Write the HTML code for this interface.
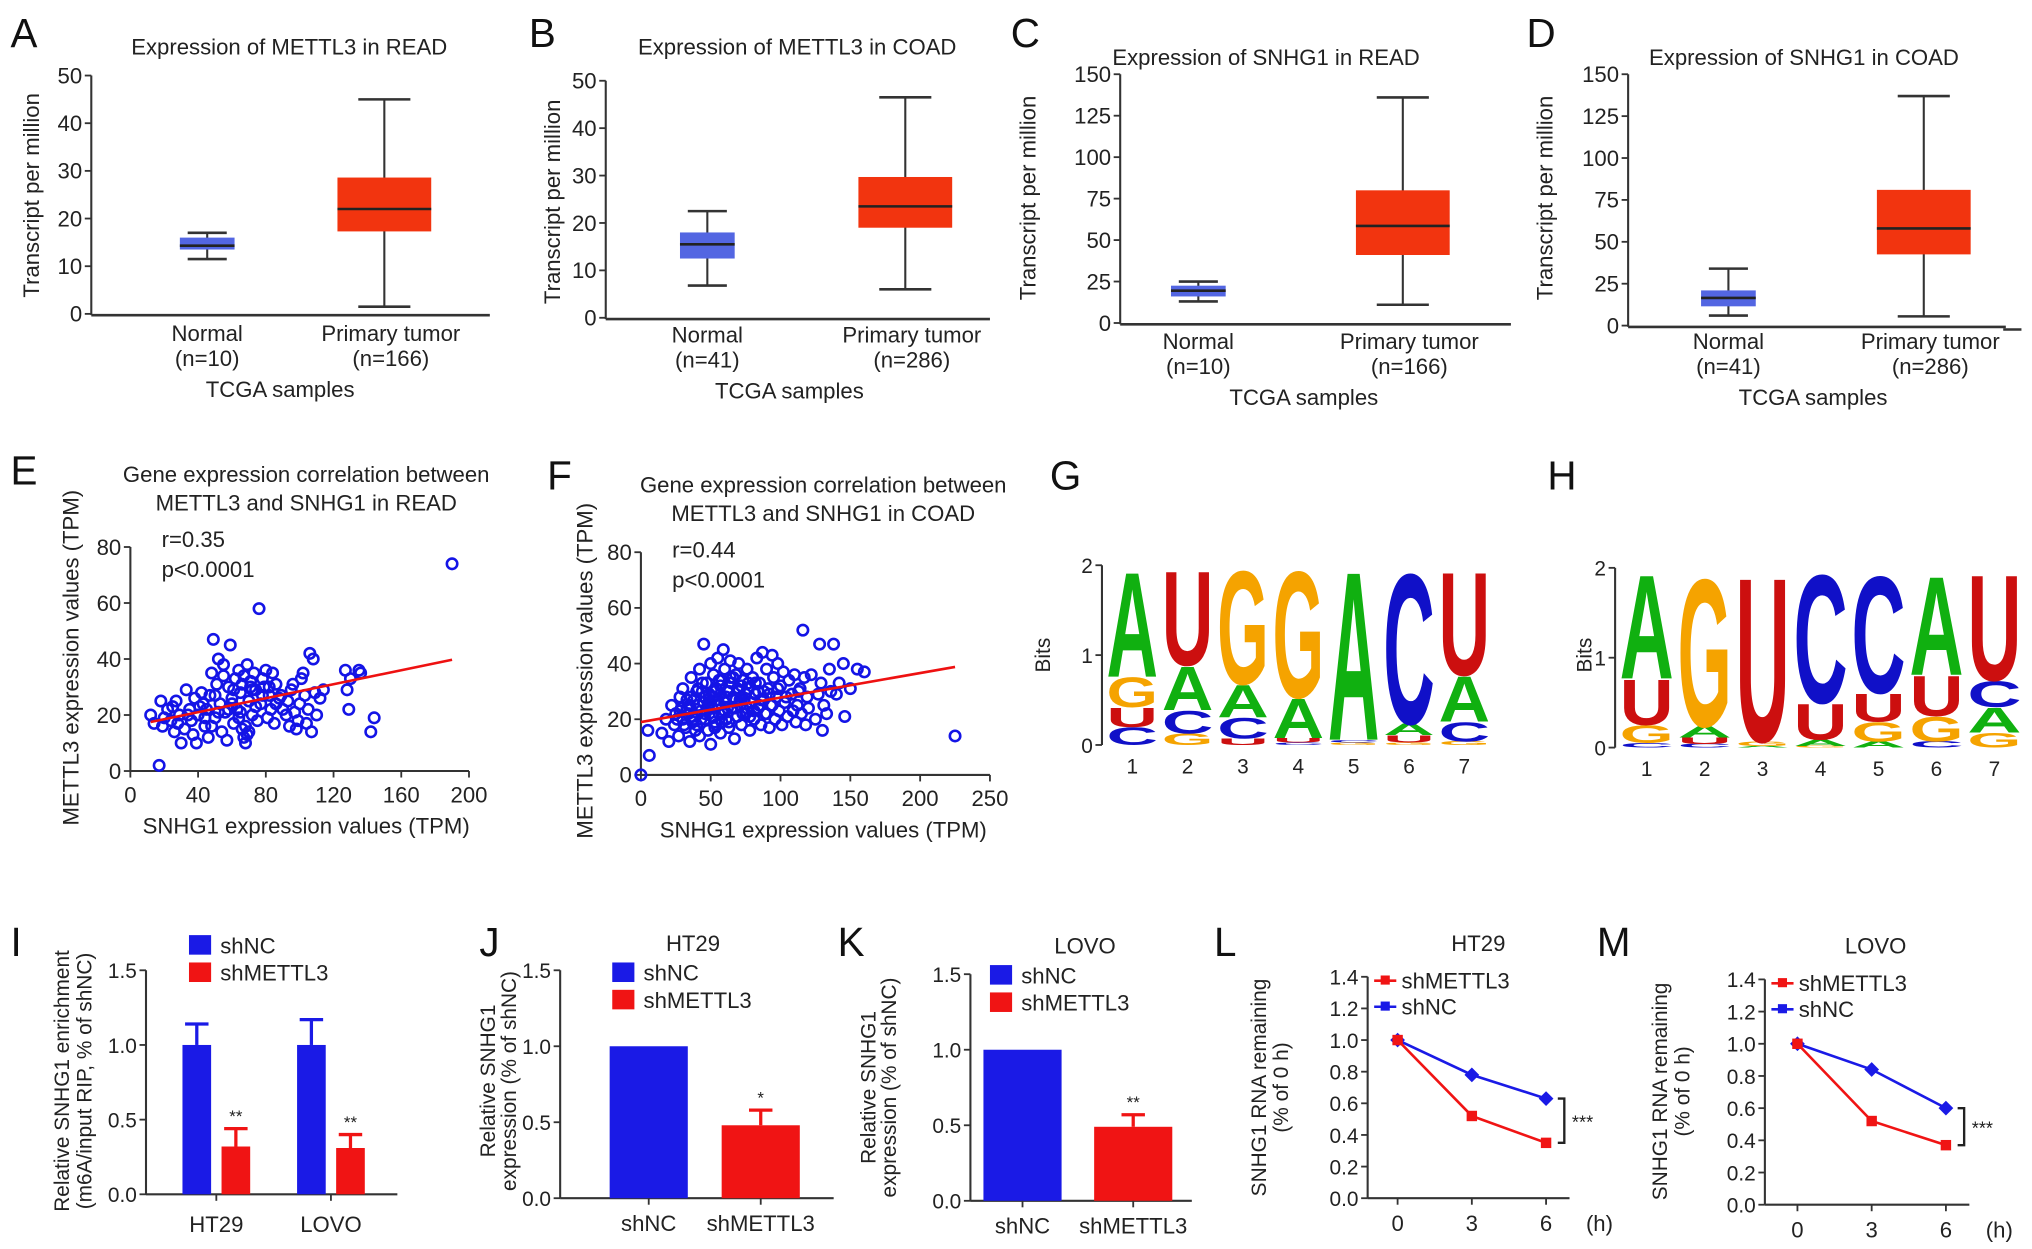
<!DOCTYPE html>
<html><head><meta charset="utf-8">
<style>
html,body{margin:0;padding:0;background:#fff;}
svg{display:block;}
text{font-family:"Liberation Sans",Arial,sans-serif;fill:#222;}
.pl{font-size:31px;fill:#111;}
</style></head>
<body>
<svg id="fig" width="2032" height="1249" viewBox="0 0 1560 959" xmlns="http://www.w3.org/2000/svg">
<g>
<text class="pl" x="8" y="36">A</text><text class="pl" x="406" y="36">B</text><text class="pl" x="776" y="36">C</text><text class="pl" x="1172" y="36">D</text>
<text class="pl" x="8" y="372">E</text><text class="pl" x="420" y="376">F</text><text class="pl" x="806" y="376">G</text><text class="pl" x="1188" y="376">H</text>
<text class="pl" x="8" y="734">I</text><text class="pl" x="368" y="734">J</text><text class="pl" x="643" y="734">K</text><text class="pl" x="932" y="734">L</text><text class="pl" x="1226" y="734">M</text>
</g>
</svg>
<script>
// ---------- data ----------
const boxCats = ["Normal","Primary tumor"];
const boxA_normal = [11.5,13.5,14.3,16,17];
const boxA_tumor  = [1.5,17.3,22,28.6,45];
const boxB_normal = [6.8,12.5,15.5,18,22.5];
const boxB_tumor  = [6,19,23.5,29.7,46.5];
const boxC_normal = [13,16,19.5,22.5,25];
const boxC_tumor  = [11,41,58.5,80,136];
const boxD_normal = [6,11.5,16.5,21,34];
const boxD_tumor  = [5.5,42.5,58,81,137];
const ticksAB = [0,10,20,30,40,50];
const ticksCD = [0,25,50,75,100,125,150];

const scatE_x = [12,14,17,18,19,22,24,26,27,29,30,32,33,35,36,37,38,39,40,42,43,44,45,46,47,48,49,50,51,52,53,54,55,56,57,58,59,60,61,62,63,64,65,66,67,68,69,70,71,72,73,74,75,76,77,78,79,80,81,82,83,84,85,86,88,90,92,94,95,97,99,100,101,102,103,104,105,106,107,108,109,110,112,114,127,128,129,130,135,136,142,144,190,
 20,25,28,34,41,44,50,55,58,61,64,66,68,70,72,74,78,82,86,89,93,96,98,60,65,67,69,71,48,52];
const scatE_y = [20,17,2,25,16,22,18,14,25,20,10,15,29,22,18,13,26,10,20,28,24,16,22,12,27,35,47,19,31,40,24,14,38,21,11,30,45,26,17,33,22,36,28,15,12,10,38,25,32,20,35,29,18,58,24,33,30,36,19,27,22,35,17,31,26,22,20,16,29,21,18,24,33,35,27,17,22,42,14,40,28,20,26,29,36,29,22,33,36,35,14,19,74,
 19,23,17,20,23,19,27,34,22,29,19,31,16,14,29,23,27,30,24,27,25,31,15,24,21,34,13,30,16,21];
const fitE = [16,0.125];
const ticksE_x = [0,40,80,120,160,200];
const ticksEF_y = [0,20,40,60,80];

const scatF_x = [0,5,6,15,18,20,22,24,25,27,28,30,30,32,33,35,36,37,38,40,40,42,42,43,45,45,46,47,48,49,50,50,51,52,53,54,55,55,56,57,58,59,60,60,61,62,63,64,65,65,66,67,68,69,70,70,71,72,73,74,75,76,77,78,79,80,81,82,83,84,85,86,87,88,89,90,91,92,93,94,95,96,97,98,99,100,101,102,103,105,106,108,110,111,112,114,115,116,117,118,119,120,122,125,127,128,129,130,131,133,135,136,138,140,142,145,146,150,155,160,225,35,38,44,48,52,57,62,66,72,76,82,88,58,46,54,
 26,29,31,34,36,39,41,43,44,47,49,51,53,55,56,59,61,63,64,67,69,71,73,75,77,79,81,84,86,90,94,98,104,109,113,28,33,37,41,46,50,53,57,60,63,68,72,78,85,92];
const scatF_y = [0,16,7,15,20,12,25,18,22,14,28,31,20,17,24,12,35,21,27,18,30,14,38,23,26,47,20,33,16,29,11,40,24,36,19,31,42,27,22,15,34,45,26,38,20,30,17,41,24,33,28,13,36,21,30,40,25,18,34,27,22,38,31,16,26,35,20,29,42,24,33,18,44,27,22,38,31,17,25,43,35,20,28,40,23,32,18,37,26,21,34,29,36,19,25,31,22,52,35,18,28,24,36,20,29,47,33,16,25,22,38,30,47,29,33,40,21,31,38,37,14,25,20,30,24,28,32,24,35,28,24,33,30,19,28,18,
 20,24,18,22,28,16,25,20,33,23,27,21,30,25,34,22,28,19,35,24,31,27,22,29,33,26,23,30,27,22,25,31,28,23,30,23,27,19,31,22,26,17,29,23,30,27,32,21,25,29];
const fitF = [19,0.088];
const ticksF_x = [0,50,100,150,200,250];

const logoG = [
 [["C",0.2],["U",0.22],["G",0.34],["A",1.2]],
 [["G",0.13],["C",0.26],["A",0.5],["U",1.08]],
 [["U",0.07],["C",0.24],["A",0.37],["G",1.3]],
 [["C",0.03],["U",0.05],["A",0.45],["G",1.45]],
 [["G",0.03],["C",0.03],["A",1.93]],
 [["G",0.03],["U",0.08],["A",0.13],["C",1.72]],
 [["G",0.04],["C",0.22],["A",0.52],["U",1.18]]];
const logoH = [
 [["C",0.05],["G",0.2],["U",0.52],["A",1.19]],
 [["C",0.04],["U",0.07],["A",0.13],["G",1.69]],
 [["A",0.02],["G",0.05],["U",1.88]],
 [["G",0.02],["A",0.07],["U",0.41],["C",1.47]],
 [["A",0.07],["G",0.22],["U",0.32],["C",1.34]],
 [["C",0.07],["G",0.28],["U",0.46],["A",1.13]],
 [["G",0.17],["A",0.28],["C",0.3],["U",1.21]]];
const logoPositions = ["1","2","3","4","5","6","7"];
const logoTicks = [0,1,2];

const barI_groups = ["HT29","LOVO"];
const barI_shNC = [1.0,1.0];
const barI_shNC_err = [0.14,0.17];
const barI_shM = [0.32,0.31];
const barI_shM_err = [0.12,0.09];
const barI_sig = ["**","**"];
const barTicks = [0,0.5,1.0,1.5];
const barJK_cats = ["shNC","shMETTL3"];
const barJ_vals = [1.0,0.48];
const barJ_err = [0,0.1];
const barJ_sig = ["","*"];
const barK_vals = [1.0,0.49];
const barK_err = [0,0.08];
const barK_sig = ["","**"];

const timeH = [0,3,6];
const lineL_shM = [1.0,0.52,0.35];
const lineL_shNC = [1.0,0.78,0.63];
const lineM_shM = [1.0,0.52,0.37];
const lineM_shNC = [1.0,0.84,0.6];
const lineTicks = [0,0.2,0.4,0.6,0.8,1.0,1.2,1.4];

// ---------- helpers ----------
const NS="http://www.w3.org/2000/svg";
const svg=document.getElementById('fig');
function mk(tag,attrs,parent){const e=document.createElementNS(NS,tag);for(const k in attrs)e.setAttribute(k,attrs[k]);(parent||svg).appendChild(e);return e;}
function txt(s,attrs,parent){const e=mk('text',attrs,parent);e.textContent=s;return e;}
function lin(v0,v1,p0,p1){return v=>p0+(v-v0)/(v1-v0)*(p1-p0);}
const fmt1=v=>v.toFixed(1);

function yAxis(g,ax,yS,ticks,y0px,ytop,fmt,fs){
  const l=mk('line',{x1:ax,y1:y0px,x2:ax,y2:ytop,stroke:'#333','stroke-width':1.6},g);
  
  
  ticks.forEach(t=>{
    const y=yS(t);
    const tl=mk('line',{x1:ax-5,y1:y,x2:ax,y2:y,stroke:'#333','stroke-width':1.4},g);
    
    
    const tt=txt(fmt?fmt(t):String(t),{x:ax-7,y:y+6,'text-anchor':'end','font-size':fs||17},g);
    
    
  });
}
function rotLabel(g,s,x,y,fs,name){
  const t=txt(s,{x:0,y:0,transform:`translate(${x},${y}) rotate(-90)`,'text-anchor':'middle','font-size':fs},g);
  
  
}
function label(g,s,x,y,fs,name,anchor){
  const t=txt(s,{x:x,y:y,'text-anchor':anchor||'middle','font-size':fs},g);
  
  
  return t;
}

// ---------- box panels ----------
function boxPanel(name,G,normal,tumor,ticks,vmax,title,nlabels){
  const g=mk('g',{});
  
  
  const yS=lin(0,vmax,G.y0,G.ytop);
  yAxis(g,G.ax,yS,ticks,G.y0+1,G.ytop,null,17);
  const xa=mk('line',{x1:G.ax,y1:G.y0+1,x2:G.xend,y2:G.y0+1,stroke:'#333','stroke-width':2},g);
  
  
  [[normal,G.cN,42,30,'#5366e2'],[tumor,G.cT,72,40,'#f2340f']].forEach((d,i)=>{
    const [v,cx,w,cw,col]=d;
    const wh=mk('line',{x1:cx,y1:yS(v[0]),x2:cx,y2:yS(v[4]),stroke:'#333','stroke-width':1.6},g);
    
    
    [v[0],v[4]].forEach(c=>{
      const cl=mk('line',{x1:cx-cw/2,y1:yS(c),x2:cx+cw/2,y2:yS(c),stroke:'#333','stroke-width':2},g);
      
      
    });
    const r=mk('rect',{x:cx-w/2,y:yS(v[3]),width:w,height:yS(v[1])-yS(v[3]),fill:col},g);
    
    
    const md=mk('line',{x1:cx-w/2,y1:yS(v[2]),x2:cx+w/2,y2:yS(v[2]),stroke:'#222','stroke-width':2},g);
    
    
  });
  label(g,title,G.tx,G.ty,17,'chart-title');
  label(g,boxCats[0],G.cN,G.ly,17,'x-category-label');
  label(g,nlabels[0],G.cN,G.ly+19,17,'x-category-n');
  label(g,boxCats[1],G.cT+5,G.ly,17,'x-category-label');
  label(g,nlabels[1],G.cT+5,G.ly+19,17,'x-category-n');
  label(g,'TCGA samples',G.xtx,G.ly+43,17,'x-axis-title');
  rotLabel(g,'Transcript per million',G.ylx,G.yly,17,'y-axis-title');
  return g;
}
boxPanel('panel-a',{ax:70,y0:241,ytop:58,xend:376,cN:159,cT:295,tx:222,ty:42,ly:262,xtx:215,ylx:30,yly:150},boxA_normal,boxA_tumor,ticksAB,50,'Expression of METTL3 in READ',['(n=10)','(n=166)']);
boxPanel('panel-b',{ax:465,y0:244,ytop:62,xend:760,cN:543,cT:695,tx:612,ty:42,ly:263,xtx:606,ylx:430,yly:155},boxB_normal,boxB_tumor,ticksAB,50,'Expression of METTL3 in COAD',['(n=41)','(n=286)']);
boxPanel('panel-c',{ax:860,y0:248,ytop:57,xend:1160,cN:920,cT:1077,tx:972,ty:50,ly:268,xtx:1001,ylx:795,yly:152},boxC_normal,boxC_tumor,ticksCD,150,'Expression of SNHG1 in READ',['(n=10)','(n=166)']);
const gD=boxPanel('panel-d',{ax:1250,y0:250,ytop:57,xend:1540,cN:1327,cT:1477,tx:1385,ty:50,ly:268,xtx:1392,ylx:1192,yly:152},boxD_normal,boxD_tumor,ticksCD,150,'Expression of SNHG1 in COAD',['(n=41)','(n=286)']);
const dash=mk('line',{x1:1538,y1:253,x2:1552,y2:253,stroke:'#333','stroke-width':2},gD);



// ---------- scatter panels ----------
function scatPanel(name,G,xs,ys,fit,xticks,t1,t2,rtxt){
  const g=mk('g',{});
  
  
  const yS=lin(0,80,G.y0,G.ytop), xS=lin(0,G.xmax,G.ax,G.xr);
  yAxis(g,G.ax,yS,ticksEF_y,G.y0,G.ytop,null,17);
  const xa=mk('line',{x1:G.ax,y1:G.y0,x2:G.xr,y2:G.y0,stroke:'#333','stroke-width':1.6},g);
  
  
  xticks.forEach(t=>{
    const tl=mk('line',{x1:xS(t),y1:G.y0,x2:xS(t),y2:G.y0+5,stroke:'#333','stroke-width':1.4},g);
    
    
    label(g,String(t),xS(t),G.y0+24,17,'x-tick-label');
  });
  xs.forEach((x,i)=>{
    const c=mk('circle',{cx:xS(x),cy:yS(ys[i]),r:4,fill:'none',stroke:'#1414e6','stroke-width':2},g);
    
    
  });
  const xmx=Math.max(...xs);
  const fl=mk('line',{x1:xS(G.fitFrom),y1:yS(fit[0]+fit[1]*G.fitFrom),x2:xS(xmx),y2:yS(fit[0]+fit[1]*xmx),stroke:'#ee1111','stroke-width':2},g);
  
  
  label(g,t1,G.tx,G.ty,17,'chart-title');
  label(g,t2,G.tx,G.ty+22,17,'chart-title');
  label(g,rtxt,G.ax+24,G.ty+50,17,'r-value','start');
  label(g,'p<0.0001',G.ax+24,G.ty+73,17,'p-value','start');
  label(g,'SNHG1 expression values (TPM)',G.xtx,G.y0+48,17,'x-axis-title');
  rotLabel(g,'METTL3 expression values (TPM)',G.ylx,G.yly,17,'y-axis-title');
}
scatPanel('panel-e',{ax:100,y0:592,ytop:420,xmax:200,xr:360,tx:235,ty:370,xtx:235,ylx:60,yly:505,fitFrom:12},scatE_x,scatE_y,fitE,ticksE_x,'Gene expression correlation between','METTL3 and SNHG1 in READ','r=0.35');
scatPanel('panel-f',{ax:492,y0:595,ytop:424,xmax:250,xr:760,tx:632,ty:378,xtx:632,ylx:455,yly:515,fitFrom:0},scatF_x,scatF_y,fitF,ticksF_x,'Gene expression correlation between','METTL3 and SNHG1 in COAD','r=0.44');

// ---------- sequence logos ----------
const letterCol={A:'#10b010',C:'#1010c8',G:'#f5a300',U:'#cc0f0f'};
function logoPanel(name,G,data){
  const g=mk('g',{});
  
  
  const yS=lin(0,2,G.y0,G.y2);
  yAxis(g,G.ax,yS,logoTicks,G.y0,G.y2,null,16);
  rotLabel(g,'Bits',G.bx,503,16,'y-axis-title');
  data.forEach((stack,i)=>{
    const cx=G.x0+G.step*(i+0.5);
    let base=0;
    stack.forEach(([L,b])=>{
      const yb=yS(base), yt=yS(base+b), h=yb-yt;
      base+=b;
      if(h<0.8) return;
      const w=G.step-3;
      const t=txt(L,{x:-w/2,y:0,'font-size':100,'font-weight':'bold',textLength:w,lengthAdjust:'spacingAndGlyphs',transform:`translate(${cx},${yb}) scale(1,${h/72})`,style:'fill:'+letterCol[L]},g);
      
      
    });
    label(g,logoPositions[i],cx,G.y0+22,16,'position-label');
  });
}
logoPanel('panel-g',{ax:846,y0:572,y2:434,x0:848,step:42.5,bx:806},logoG);
logoPanel('panel-h',{ax:1240,y0:574,y2:436,x0:1242,step:44.5,bx:1222},logoH);

// ---------- bar panels ----------
function legendBox(g,x,y,col,s){
  const r=mk('rect',{x:x,y:y-14,width:17,height:15,fill:col},g);
  
  
  label(g,s,x+24,y,17,'legend-label','start');
}
function errBar(g,cx,yTop,yErr,col){
  const l=mk('line',{x1:cx,y1:yTop,x2:cx,y2:yErr,stroke:col,'stroke-width':2.5},g);
  
  
  const c=mk('line',{x1:cx-9,y1:yErr,x2:cx+9,y2:yErr,stroke:col,'stroke-width':2.5},g);
  
  
}
(function(){
  const g=mk('g',{});
  
  
  const ax=112,y0=917,yS=lin(0,1.5,y0,745);
  yAxis(g,ax,yS,barTicks,y0,745,fmt1,16);
  const xa=mk('line',{x1:ax,y1:y0,x2:305,y2:y0,stroke:'#333','stroke-width':1.6},g);
  
  
  const centers=[166,254];
  barI_groups.forEach((gn,i)=>{
    const c=centers[i];
    errBar(g,c-15,yS(barI_shNC[i]),yS(barI_shNC[i]+barI_shNC_err[i]),'#1a1ae6');
    const b1=mk('rect',{x:c-26,y:yS(barI_shNC[i]),width:22,height:y0-yS(barI_shNC[i]),fill:'#1a1ae6'},g);
    
    
    errBar(g,c+15,yS(barI_shM[i]),yS(barI_shM[i]+barI_shM_err[i]),'#f01414');
    const b2=mk('rect',{x:c+4,y:yS(barI_shM[i]),width:22,height:y0-yS(barI_shM[i]),fill:'#f01414'},g);
    
    
    label(g,barI_sig[i],c+15,yS(barI_shM[i]+barI_shM_err[i])-5,13,'significance-mark');
    const tk=mk('line',{x1:c,y1:y0,x2:c,y2:y0+5,stroke:'#333','stroke-width':1.4},g);
    
    
    label(g,gn,c,y0+29,17,'x-category-label');
  });
  legendBox(g,145,732,'#1a1ae6','shNC');
  legendBox(g,145,753,'#f01414','shMETTL3');
  rotLabel(g,'Relative SNHG1 enrichment',53,830,16,'y-axis-title');
  rotLabel(g,'(m6A/input RIP, % of shNC)',70,830,16,'y-axis-title');
})();
function barPanel(name,G,vals,errs,sig,title){
  const g=mk('g',{});
  
  
  const yS=lin(0,1.5,G.y0,G.ytop);
  yAxis(g,G.ax,yS,barTicks,G.y0,G.ytop,fmt1,16);
  const xa=mk('line',{x1:G.ax,y1:G.y0,x2:G.xend,y2:G.y0,stroke:'#333','stroke-width':1.6},g);
  
  
  const cols=['#1a1ae6','#f01414'];
  barJK_cats.forEach((cn,i)=>{
    const c=G.cx[i];
    if(errs[i]>0) errBar(g,c,yS(vals[i]),yS(vals[i]+errs[i]),cols[i]);
    const b=mk('rect',{x:c-30,y:yS(vals[i]),width:60,height:G.y0-yS(vals[i]),fill:cols[i]},g);
    
    
    if(sig[i]) label(g,sig[i],c,yS(vals[i]+errs[i])-5,13,'significance-mark');
    const tk=mk('line',{x1:c,y1:G.y0,x2:c,y2:G.y0+5,stroke:'#333','stroke-width':1.4},g);
    
    
    label(g,cn,c,G.y0+25,17,'x-category-label');
  });
  label(g,title,G.tx,G.y0-190,17,'chart-title');
  legendBox(g,G.lx,G.y0-167,cols[0],'shNC');
  legendBox(g,G.lx,G.y0-146,cols[1],'shMETTL3');
  rotLabel(g,'Relative SNHG1',G.ylx,G.yly,16,'y-axis-title');
  rotLabel(g,'expression (% of shNC)',G.ylx+16,G.yly,16,'y-axis-title');
}
barPanel('panel-j',{ax:430,y0:920,ytop:745,xend:640,cx:[498,584],tx:532,lx:470,ylx:380,yly:830},barJ_vals,barJ_err,barJ_sig,'HT29');
barPanel('panel-k',{ax:745,y0:922,ytop:748,xend:915,cx:[785,870],tx:833,lx:760,ylx:672,yly:835},barK_vals,barK_err,barK_sig,'LOVO');

// ---------- line panels ----------
function linePanel(name,G,shM,shNC,title){
  const g=mk('g',{});
  
  
  const yS=lin(0,1.4,G.y0,G.ytop), xS=lin(0,6,G.x0,G.x6);
  yAxis(g,G.ax,yS,lineTicks,G.y0,G.ytop,fmt1,16);
  const xa=mk('line',{x1:G.ax,y1:G.y0,x2:G.xend,y2:G.y0,stroke:'#333','stroke-width':1.6},g);
  
  
  timeH.forEach(t=>{
    const tk=mk('line',{x1:xS(t),y1:G.y0,x2:xS(t),y2:G.y0+5,stroke:'#333','stroke-width':1.4},g);
    
    
    label(g,String(t),xS(t),G.y0+25,17,'x-tick-label');
  });
  label(g,'(h)',G.hx,G.y0+25,17,'x-axis-unit');
  [[shNC,'#1a1ae6','shnc'],[shM,'#f01414','shmettl3']].forEach(([v,col,nm])=>{
    const pl=mk('polyline',{points:v.map((y,i)=>xS(timeH[i])+','+yS(y)).join(' '),fill:'none',stroke:col,'stroke-width':2},g);
    
    
    v.forEach((y,i)=>{
      const m=mk('rect',{x:xS(timeH[i])-4,y:yS(y)-4,width:8,height:8,fill:col,transform:nm==='shnc'?`rotate(45 ${xS(timeH[i])} ${yS(y)})`:''},g);
      
      
    });
  });
  [['#f01414','shMETTL3',0],['#1a1ae6','shNC',1]].forEach(([col,s,k])=>{
    const y=G.ytop+3+k*20;
    const ll=mk('line',{x1:G.ax+5,y1:y,x2:G.ax+22,y2:y,stroke:col,'stroke-width':2},g);
    
    
    const lm=mk('rect',{x:G.ax+10,y:y-4,width:7,height:7,fill:col},g);
    
    
    label(g,s,G.ax+26,y+6,17,'legend-label','start');
  });
  const bx=xS(6)+14;
  const br=mk('polyline',{points:`${bx-5},${yS(shNC[2])} ${bx},${yS(shNC[2])} ${bx},${yS(shM[2])} ${bx-5},${yS(shM[2])}`,fill:'none',stroke:'#222','stroke-width':1.8},g);
  
  
  label(g,'***',bx+14,(yS(shNC[2])+yS(shM[2]))/2+6,14,'significance-mark');
  label(g,title,G.tx,G.ytop-20,17,'chart-title');
  rotLabel(g,'SNHG1 RNA remaining',G.ylx,G.yly,16,'y-axis-title');
  rotLabel(g,'(% of 0 h)',G.ylx+17,G.yly,16,'y-axis-title');
}
linePanel('panel-l',{ax:1050,y0:920,ytop:750,x0:1073,x6:1187,xend:1205,hx:1228,tx:1135,ylx:972,yly:835},lineL_shM,lineL_shNC,'HT29');
linePanel('panel-m',{ax:1355,y0:925,ytop:752,x0:1380,x6:1494,xend:1512,hx:1535,tx:1440,ylx:1280,yly:838},lineM_shM,lineM_shNC,'LOVO');
</script>
</body></html>
